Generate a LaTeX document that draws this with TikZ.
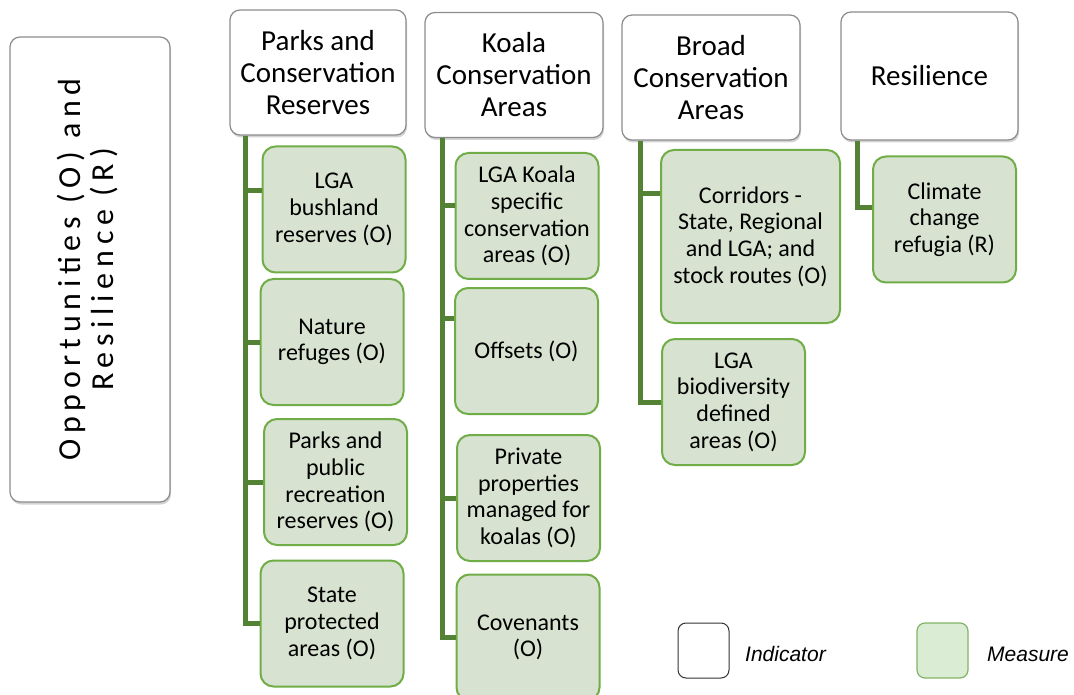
\documentclass[tikz,border=0pt]{standalone}
\usepackage{fontspec}
\setmainfont{Carlito}
\newfontfamily\legendfont{Liberation Sans}
\newfontfamily\spacedfont{Carlito}[LetterSpace=18]
\usetikzlibrary{shadows}
\definecolor{trunkgreen}{RGB}{84,130,53}
\definecolor{measurefill}{RGB}{215,227,208}
\definecolor{measureline}{RGB}{112,173,71}
\definecolor{keyfill}{RGB}{218,237,212}
\definecolor{keyline}{RGB}{130,179,102}

\begin{document}
\begin{tikzpicture}[x=1pt,y=-1pt]
	\tikzstyle{indicator}=[rectangle,rounded corners=10pt,draw=black!45,line width=1.2pt,fill=white,
		drop shadow={shadow xshift=1pt,shadow yshift=-2.5pt,opacity=.35},
		align=center,inner sep=0pt,font=\fontsize{29}{32}\selectfont]
	\tikzstyle{measure}=[rectangle,rounded corners=13pt,draw=measureline,line width=2pt,fill=measurefill,
		align=center,inner sep=0pt,font=\fontsize{24}{26.7}\selectfont]
	\tikzstyle{trunk}=[draw=trunkgreen,line width=5pt,line join=miter]
	\tikzstyle{keybox}=[rectangle,rounded corners=8pt,minimum width=51pt,minimum height=55pt]
	\tikzstyle{keytext}=[anchor=west,inner sep=0pt,font=\legendfont\itshape\fontsize{21}{24}\selectfont]
	\useasboundingbox (0,0) rectangle (1074,695);

	% side title
	\node [indicator,minimum width=160pt,minimum height=465pt] (title) at (90,269.5)
		{\rotatebox{90}{\spacedfont\fontsize{32}{33}\selectfont\begin{tabular}{@{}c@{}}Opportunities (O) and\\Resilience (R)\end{tabular}}};

	% indicators
	\begin{scope}[minimum height=125pt]
		\node [indicator,minimum width=176pt] (parks) at (318,72.5) {Parks and\\Conservation\\Reserves};
		\node [indicator,minimum width=178pt] (koala) at (514,75) {Koala\\Conservation\\Areas};
		\node [indicator,minimum width=178pt] (broad) at (711,77.5) {Broad\\Conservation\\Areas};
		\node [indicator,minimum width=177pt,minimum height=128pt] (resil) at (929.5,76) {Resilience};
	\end{scope}

	% measures
	\begin{scope}[minimum width=143pt,minimum height=126pt]
		\node [measure] (bush) at (334,209.5) {LGA\\bushland\\reserves (O)};
		\node [measure] (refuge) at (332,342) {Nature\\refuges (O)};
		\node [measure] (recre) at (335.5,482) {Parks and\\public\\recreation\\reserves (O)};
		\node [measure] (state) at (332,623.5) {State\\protected\\areas (O)};

		\node [measure] (kspec) at (527,216) {LGA Koala\\specific\\conservation\\areas (O)};
		\node [measure] (offset) at (526.5,351) {Offsets (O)};
		\node [measure] (priv) at (528.5,498) {Private\\properties\\managed for\\koalas (O)};
		\node [measure] (coven) at (528,637.5) {Covenants\\(O)};

		\node [measure,minimum width=179pt,minimum height=173pt] (corr) at (750.5,236.5) {Corridors -\\State, Regional\\and LGA; and\\stock routes (O)};
		\node [measure] (biodiv) at (733.5,402) {LGA\\biodiversity\\defined\\areas (O)};

		\node [measure] (refugia) at (944.5,219.5) {Climate\\change\\refugia (R)};
	\end{scope}

	% connectors
	\path[trunk] ([xshift=16pt]parks.south west) |- ([yshift=19pt]bush.west);
	\path[trunk] ([xshift=16pt]parks.south west) |- (refuge.west);
	\path[trunk] ([xshift=16pt]parks.south west) |- (recre.west);
	\path[trunk] ([xshift=16pt]parks.south west) |- (state.west);

	\path[trunk] ([xshift=18pt]koala.south west) |- ([yshift=10pt]kspec.west);
	\path[trunk] ([xshift=18pt]koala.south west) |- ([yshift=33pt]offset.west);
	\path[trunk] ([xshift=18pt]koala.south west) |- (priv.west);
	\path[trunk] ([xshift=18pt]koala.south west) |- (coven.west);

	\path[trunk] ([xshift=19pt]broad.south west) |- ([yshift=43pt]corr.west);
	\path[trunk] ([xshift=19pt]broad.south west) |- (biodiv.west);

	\path[trunk] ([xshift=17pt]resil.south west) |- ([yshift=12pt]refugia.west);

	% legend
	\node [keybox,draw=black!80,line width=1pt,fill=white] (keyind) at (703.5,650.5) {};
	\node [keytext] (keyindtext) at (745,654) {Indicator};
	\node [keybox,draw=keyline,line width=1.2pt,fill=keyfill] (keymea) at (942.5,650.5) {};
	\node [keytext] (keymeatext) at (987,654) {Measure};
\end{tikzpicture}
\end{document}
